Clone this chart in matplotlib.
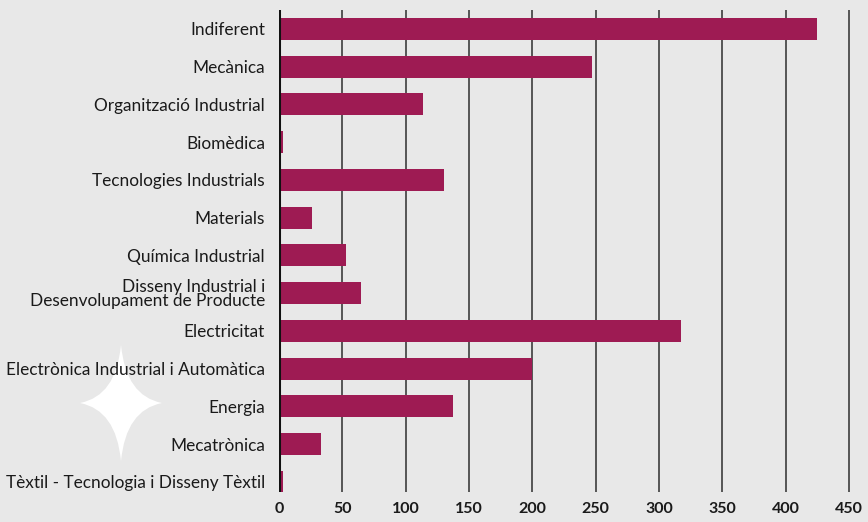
import matplotlib

matplotlib.use("Agg")
import matplotlib.pyplot as plt  # noqa: E402
from matplotlib.path import Path  # noqa: E402
from matplotlib.patches import PathPatch  # noqa: E402

categories = [
    "Indiferent",
    "Mecànica",
    "Organització Industrial",
    "Biomèdica",
    "Tecnologies Industrials",
    "Materials",
    "Química Industrial",
    "Disseny Industrial i\nDesenvolupament de Producte",
    "Electricitat",
    "Electrònica Industrial i Automàtica",
    "Energia",
    "Mecatrònica",
    "Tèxtil - Tecnologia i Disseny Tèxtil",
]
values = [425, 247, 114, 3, 130, 26, 53, 65, 317, 200, 137, 33, 3]
ticks = [0, 50, 100, 150, 200, 250, 300, 350, 400, 450]

BG = "#e8e8e8"
BAR = "#9e1b53"

plt.rcParams["font.family"] = ["Lato", "DejaVu Sans"]

fig = plt.figure(figsize=(8.68, 5.22), dpi=100, facecolor=BG)
ax = fig.add_axes([279 / 868, 1 - 492 / 522, 1 - 279 / 868, (492 - 10) / 522])
ax.set_facecolor(BG)

y = list(range(len(categories)))
ax.barh(y, values, height=0.58, color=BAR, zorder=3)
ax.set_ylim(12.27, -0.5)
ax.set_xlim(0, 465)

for t in ticks[1:]:
    ax.axvline(t, color="#4a4a4a", lw=1.3, zorder=1)
ax.axvline(0, color="#111111", lw=2.2, zorder=4)

for s in ax.spines.values():
    s.set_visible(False)
ax.set_yticks(y)
ax.set_yticklabels(categories, fontsize=12.4, color="#1a1a1a", linespacing=0.85)
ax.set_xticks(ticks)
ax.set_xticklabels([str(t) for t in ticks], fontsize=11.5, fontweight="bold", color="#1a1a1a")
ax.tick_params(axis="both", length=0)
ax.tick_params(axis="y", pad=10)
ax.tick_params(axis="x", pad=7)

# decorative four-pointed star behind the labels
cx, cy, hw, hh = 121 / 868, 1 - 403 / 522, 41 / 868, 58 / 522
k = 0.12
verts = [
    (cx, cy + hh),
    (cx + k * hw, cy + k * hh), (cx + hw, cy),
    (cx + k * hw, cy - k * hh), (cx, cy - hh),
    (cx - k * hw, cy - k * hh), (cx - hw, cy),
    (cx - k * hw, cy + k * hh), (cx, cy + hh),
]
codes = [Path.MOVETO] + [Path.CURVE3] * 8
star = PathPatch(Path(verts, codes), facecolor="white", edgecolor="none",
                 transform=fig.transFigure, zorder=-1)
fig.patches.append(star)

fig.savefig("out.png", dpi=100, facecolor=BG)
